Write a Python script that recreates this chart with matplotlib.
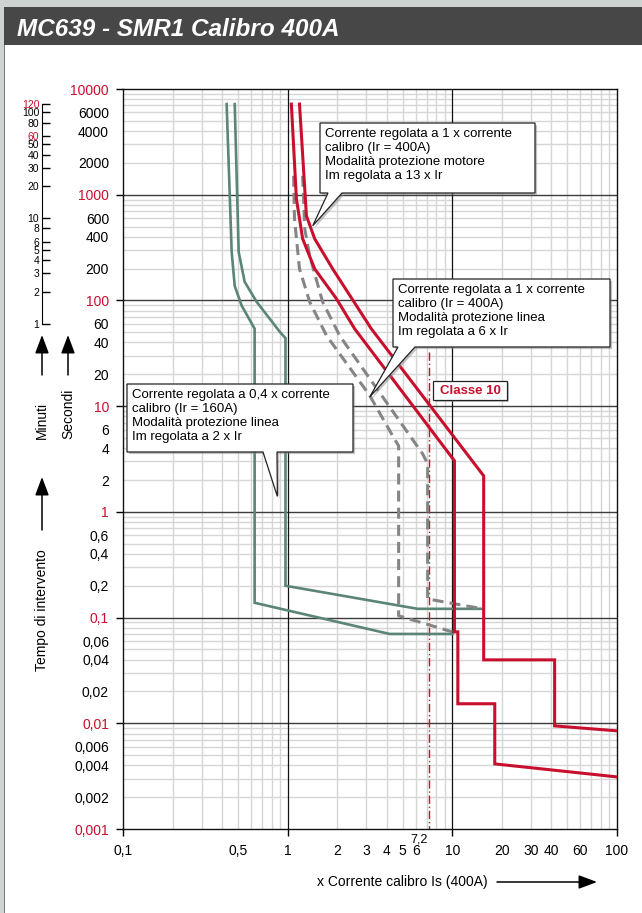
import numpy as np
import matplotlib
matplotlib.use("Agg")
import matplotlib.pyplot as plt
from matplotlib.patches import Polygon, Rectangle
from matplotlib.ticker import FixedLocator, NullLocator, NullFormatter
import matplotlib.patheffects as pe

plt.rcParams['font.family'] = ['Liberation Sans', 'DejaVu Sans']

RED = '#c8102e'
GREEN = '#5b8574'
GRAY = '#858585'

# trip curves: x = multiples of Is, y = seconds
green_a_x = [0.426, 0.457, 0.477, 0.526, 0.63, 0.63, 4.16, 10.0]
green_a_y = [7200, 288, 137, 89, 54, 0.138, 0.070, 0.070]

green_b_x = [0.477, 0.504, 0.548, 0.648, 0.90, 0.97, 0.97, 6.15, 15.3]
green_b_y = [7200, 288, 150, 97, 50, 44, 0.20, 0.121, 0.121]

red_a_x = [1.053, 1.13, 1.233, 1.459, 1.976, 2.55, 10.3, 10.3, 10.8, 10.8, 18.1, 18.1, 100]
red_a_y = [7200, 915, 383, 199, 104, 54, 3.04, 0.0732, 0.0732, 0.0153, 0.0153, 0.00413, 0.00311]

red_b_x = [1.18, 1.30, 1.459, 1.876, 3.22, 15.5, 15.5, 41.8, 41.8, 100]
red_b_y = [7200, 631, 383, 199, 54, 2.19, 0.0398, 0.0398, 0.00945, 0.00848]

gray_a_x = [1.087, 1.10, 1.18, 1.36, 1.72, 3.15, 4.34, 4.72, 4.72, 10.0]
gray_a_y = [1510, 592, 199, 97, 46.6, 12.6, 5.24, 4.21, 0.104, 0.0732]

gray_b_x = [1.233, 1.27, 1.36, 1.63, 2.07, 6.6, 7.08, 7.08, 15.3]
gray_b_y = [1510, 476, 264, 97, 46.3, 3.54, 2.85, 0.150, 0.121]

classe10_x = 7.2
classe10_top = 32.6

x_ticks = [0.1, 0.5, 1, 2, 3, 4, 5, 6, 10, 20, 30, 40, 60, 100]
x_labels = ['0,1', '0,5', '1', '2', '3', '4', '5', '6', '10', '20', '30', '40', '60', '100']
y_ticks = [10000, 6000, 4000, 2000, 1000, 600, 400, 200, 100, 60, 40, 20, 10, 6, 4, 2, 1,
           0.6, 0.4, 0.2, 0.1, 0.06, 0.04, 0.02, 0.01, 0.006, 0.004, 0.002, 0.001]
y_labels = ['10000', '6000', '4000', '2000', '1000', '600', '400', '200', '100', '60', '40',
            '20', '10', '6', '4', '2', '1', '0,6', '0,4', '0,2', '0,1', '0,06', '0,04', '0,02',
            '0,01', '0,006', '0,004', '0,002', '0,001']
min_ticks = [1, 2, 3, 4, 5, 6, 8, 10, 20, 30, 40, 50, 60, 80, 100, 120]
min_red = [60, 120]

notes = [
    "Corrente regolata a 1 x corrente\ncalibro (Ir = 400A)\nModalità protezione motore\nIm regolata a 13 x Ir",
    "Corrente regolata a 1 x corrente\ncalibro (Ir = 400A)\nModalità protezione linea\nIm regolata a 6 x Ir",
    "Corrente regolata a 0,4 x corrente\ncalibro (Ir = 160A)\nModalità protezione linea\nIm regolata a 2 x Ir",
]
note_tips = [(1.42, 508), (3.15, 12.2), (0.866, 1.40)]

W, H = 642, 913
fig = plt.figure(figsize=(W / 100, H / 100), dpi=100)
fig.patch.set_facecolor('white')

# page frame + title band
fig.patches.append(Rectangle((0, 0), 4 / W, 1, transform=fig.transFigure,
                             facecolor='#cdd3d0', edgecolor='none', zorder=0))
fig.patches.append(Rectangle((0, 1 - 7 / H), 1, 7 / H, transform=fig.transFigure,
                             facecolor='#cdd3d0', edgecolor='none', zorder=0))
fig.patches.append(Rectangle((4 / W, 0), 1 / W, 1 - 7 / H, transform=fig.transFigure,
                             facecolor='#7a7a7a', edgecolor='none', zorder=1))
fig.patches.append(Rectangle((4 / W, 1 - 45 / H), 1, 38 / H, transform=fig.transFigure,
                             facecolor='#474747', edgecolor='none', zorder=1))
fig.text(17 / W, 1 - 36 / H, 'MC639 - SMR1 Calibro 400A', color='white', fontsize=17.5,
         fontweight='bold', fontstyle='italic', va='baseline')

ax = fig.add_axes([123 / W, 1 - 829 / H, 494 / W, 740 / H])
ax.set_xscale('log')
ax.set_yscale('log')
ax.set_xlim(0.1, 100)
ax.set_ylim(0.001, 10000)

# grid
for d in [0.1, 1, 10]:
    for k in range(2, 10):
        ax.axvline(k * d, color='#d6d6d6', lw=1.0, zorder=1)
for d in [0.001, 0.01, 0.1, 1, 10, 100, 1000]:
    for k in range(2, 10):
        ax.axhline(k * d, color='#d6d6d6', lw=1.0, zorder=1)
for d in [0.01, 0.1, 1, 10, 100, 1000]:
    ax.axhline(d, color='#3c3c3c', lw=1.0, zorder=2)
for d in [1, 10]:
    ax.axvline(d, color='#111111', lw=0.9, zorder=2)

# curves
ax.plot(green_a_x, green_a_y, color=GREEN, lw=1.9, zorder=4, solid_joinstyle='miter')
ax.plot(green_b_x, green_b_y, color=GREEN, lw=1.9, zorder=4, solid_joinstyle='miter')
ax.plot(gray_a_x, gray_a_y, color=GRAY, lw=2.2, ls=(0, (3.6, 2.0)), zorder=5)
ax.plot(gray_b_x, gray_b_y, color=GRAY, lw=2.2, ls=(0, (3.6, 2.0)), zorder=5)
ax.plot(red_a_x, red_a_y, color=RED, lw=2.2, zorder=6, solid_joinstyle='miter')
ax.plot(red_b_x, red_b_y, color=RED, lw=2.2, zorder=6, solid_joinstyle='miter')
ax.plot([classe10_x, classe10_x], [classe10_top, 0.001], color=RED, lw=1.0,
        ls=(0, (6, 2, 1, 2)), zorder=3)

# ticks
ax.xaxis.set_major_locator(FixedLocator(x_ticks))
ax.set_xticklabels(x_labels)
ax.yaxis.set_major_locator(FixedLocator(y_ticks))
ax.set_yticklabels(y_labels)
ax.xaxis.set_minor_locator(FixedLocator([0.1, 1, 10, 100]))
ax.yaxis.set_minor_locator(FixedLocator([0.001, 0.01, 0.1, 1, 10, 100, 1000, 10000]))
ax.xaxis.set_minor_formatter(NullFormatter())
ax.yaxis.set_minor_formatter(NullFormatter())
ax.xaxis.remove_overlapping_locs = False
ax.yaxis.remove_overlapping_locs = False
ax.tick_params(which='major', length=0, labelsize=10)
ax.tick_params(axis='x', which='major', pad=11)
ax.tick_params(axis='y', which='major', pad=10)
ax.tick_params(which='minor', length=5, width=1, direction='out')
for lbl, v in zip(ax.get_yticklabels(), y_ticks):
    if abs(np.log10(v) - round(np.log10(v))) < 1e-9:
        lbl.set_color(RED)
for s in ax.spines.values():
    s.set_linewidth(1.0)
    s.set_color('#111111')

ax.annotate('7,2', xy=(classe10_x, 0.001), xytext=(-10, -10), textcoords='offset pixels',
            ha='center', va='center', fontsize=9, annotation_clip=False)

# minutes scale
sec = ax.secondary_yaxis((42 - 123) / 494, functions=(lambda s: s / 60.0, lambda m: m * 60.0))
sec.set_ticks(min_ticks, labels=[str(m) for m in min_ticks])
sec.yaxis.set_minor_locator(NullLocator())
sec.spines['left'].set_bounds(1, 120)
sec.tick_params(direction='in', length=6, width=1, labelsize=7.5, pad=2)
for lbl, m in zip(sec.get_yticklabels(), min_ticks):
    if m in min_red:
        lbl.set_color(RED)


def to_axes(x, y):
    return ((np.log10(x) + 1) / 3, (np.log10(y) + 3) / 7)


def px_ax(px, py):
    return ((px - 123) / 494, (829 - py) / 740)


def callout(box, base, tip, text, tx, ty):
    x0, y0, x1, y1 = box
    tp = to_axes(*tip)
    pts = [(x0, y1), (x1, y1), (x1, y0), (base[1], y0), tp, (base[0], y0), (x0, y0)]
    poly = Polygon(pts, closed=True, transform=ax.transAxes, facecolor='white',
                   edgecolor='#222222', lw=0.9, zorder=8, clip_on=False,
                   path_effects=[pe.SimplePatchShadow(offset=(1.5, -1.5), shadow_rgbFace='#888888', alpha=0.5),
                                 pe.Normal()])
    ax.add_patch(poly)
    ax.text(tx, ty, text, transform=ax.transAxes, fontsize=9.5, va='top', ha='left',
            zorder=9, linespacing=1.22)


b1 = px_ax(320, 193) + px_ax(535, 123)
callout(b1, (px_ax(328, 0)[0], px_ax(342, 0)[0]), note_tips[0], notes[0], *px_ax(325, 128))
b2 = px_ax(393, 347) + px_ax(610, 279)
callout(b2, (px_ax(398, 0)[0], px_ax(415, 0)[0]), note_tips[1], notes[1], *px_ax(398, 284))
b3 = px_ax(127, 452) + px_ax(353, 384)
callout(b3, (px_ax(263, 0)[0], px_ax(277, 0)[0]), note_tips[2], notes[2], *px_ax(132, 389))

cx0, cy0 = px_ax(433, 400)
cx1, cy1 = px_ax(507, 381)
ax.add_patch(Rectangle((cx0, cy0), cx1 - cx0, cy1 - cy0, transform=ax.transAxes,
                       facecolor='white', edgecolor='#222222', lw=0.9, zorder=8,
                       path_effects=[pe.SimplePatchShadow(offset=(1.2, -1.2), shadow_rgbFace='#888888', alpha=0.5),
                                     pe.Normal()]))
ax.text((cx0 + cx1) / 2, (cy0 + cy1) / 2, 'Classe 10', transform=ax.transAxes, color=RED,
        fontsize=9.5, fontweight='bold', ha='center', va='center', zorder=9)

# side labels with arrows
arrow = dict(arrowstyle='-|>,head_length=0.8,head_width=0.3', color='black', lw=1.1,
             mutation_scale=14, shrinkA=0, shrinkB=0)
for xpx, y0px, y1px in [(42, 375, 335), (68, 375, 335), (42, 530, 477)]:
    ax.annotate('', xy=(xpx / W, 1 - y1px / H), xytext=(xpx / W, 1 - y0px / H),
                xycoords='figure fraction', textcoords='figure fraction', arrowprops=arrow,
                annotation_clip=False)
fig.text(42 / W, 1 - 420 / H, 'Minuti', rotation=90, ha='center', va='center', fontsize=10)
fig.text(68 / W, 1 - 414 / H, 'Secondi', rotation=90, ha='center', va='center', fontsize=10)
fig.text(42 / W, 1 - 610 / H, 'Tempo di intervento', rotation=90, ha='center', va='center', fontsize=10)

fig.text(317 / W, 1 - 882 / H, 'x Corrente calibro Is (400A)', ha='left', va='center', fontsize=10)
ax.annotate('', xy=(597 / W, 1 - 882 / H), xytext=(497 / W, 1 - 882 / H),
            xycoords='figure fraction', textcoords='figure fraction', arrowprops=arrow,
            annotation_clip=False)

fig.savefig('out.png', dpi=100)
